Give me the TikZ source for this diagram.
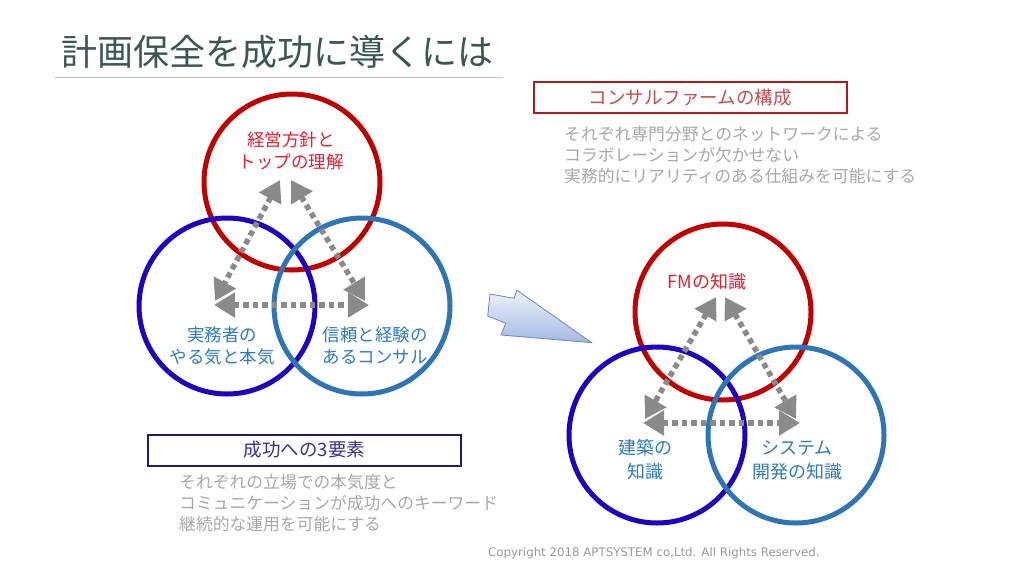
\documentclass[tikz,border=0pt]{standalone}
\usepackage{fontspec}
\newfontfamily\jp{Noto Sans CJK JP}
\newfontfamily\cpy{DejaVu Sans}
\usetikzlibrary{arrows.meta,shadings}
\definecolor{ttl}{HTML}{3B5753}
\definecolor{cred}{HTML}{C00000}
\definecolor{cdb}{HTML}{2200C0}
\definecolor{clb}{HTML}{2E75B6}
\definecolor{tred}{HTML}{E0202E}
\definecolor{tblue}{HTML}{2E7BC0}
\definecolor{txtgray}{HTML}{A8A8A8}
\definecolor{arrgray}{HTML}{8A8A8A}
\definecolor{boxred}{HTML}{B01A1A}
\definecolor{boxredtxt}{HTML}{C0504D}
\definecolor{boxnavy}{HTML}{231A6E}
\definecolor{boxnavytxt}{HTML}{3A2E96}
\definecolor{arrfill1}{HTML}{EEF2FA}
\definecolor{arrfill2}{HTML}{A3B9E2}
\definecolor{arrline}{HTML}{7088B8}
\tikzset{
  ring/.style={circle, line width=5pt, minimum size=176pt, inner sep=0pt},
  garrow/.style={draw=arrgray, line width=5.5pt, dash pattern=on 5.5pt off 4pt,
    {Triangle[length=21pt 0,width=24pt 0]}-{Triangle[length=21pt 0,width=24pt 0]}},
  lbl/.style={align=center, inner sep=0pt, font=\jp\fontsize{17.5}{22}\selectfont},
  rlbl/.style={align=center, inner sep=0pt, font=\jp\fontsize{18}{24}\selectfont},
  body/.style={align=left, anchor=west, inner sep=0pt, text=txtgray, font=\jp\fontsize{16.8}{21}\selectfont},
  headbox/.style={draw, line width=2pt, minimum width=313pt, minimum height=31pt, inner sep=0pt, font=\jp\fontsize{18.5}{22}\selectfont}
}
\begin{document}
\begin{tikzpicture}[x=1pt,y=-1pt]
\useasboundingbox[fill=white] (0,0) rectangle (1024,576);
% title
\node[anchor=west, inner sep=0pt, text=ttl, font=\jp\fontsize{36}{40}\selectfont] (title) at (61,52) {計画保全を成功に導くには};
\coordinate (ul1) at (55,77.5);
\coordinate (ul2) at (503,77.5);
\draw[line width=1.5pt, draw=black!25] (ul1) -- (ul2);

% left diagram
\node[ring, draw=cred] (lr) at (292,182) {};
\node[ring, draw=cdb] (ldb) at (227,306) {};
\node[ring, draw=clb] (llb) at (362,306) {};
\node[lbl, text=tred] (lrt) at (291,151) {経営方針と\\トップの理解};
\node[lbl, text=tblue] (ldbt) at (222,346) {実務者の\\やる気と本気};
\node[lbl, text=tblue] (llbt) at (375,346) {信頼と経験の\\あるコンサル};
\coordinate (la1) at (280,180);
\coordinate (la2) at (215,301);
\coordinate (lb1) at (291,180);
\coordinate (lb2) at (365,301);
\coordinate (lc1) at (214,305);
\coordinate (lc2) at (369,305);
\draw[garrow] (la1) -- (la2);
\draw[garrow] (lb1) -- (lb2);
\draw[garrow] (lc1) -- (lc2);

% right diagram
\node[ring, draw=cred] (rr) at (723,312) {};
\node[ring, draw=cdb] (rdb) at (657,435) {};
\node[ring, draw=clb] (rlb) at (796,435) {};
\node[rlbl, text=tred] (rrt) at (707,282) {FMの知識};
\node[rlbl, text=tblue] (rdbt) at (645,460) {建築の\\知識};
\node[rlbl, text=tblue] (rlbt) at (797,460) {システム\\開発の知識};
\coordinate (ra1) at (716,297);
\coordinate (ra2) at (645,419);
\coordinate (rb1) at (725,297);
\coordinate (rb2) at (796,419);
\coordinate (rc1) at (643,423);
\coordinate (rc2) at (800,423);
\draw[garrow] (ra1) -- (ra2);
\draw[garrow] (rb1) -- (rb2);
\draw[garrow] (rc1) -- (rc2);

% block arrow
\shade[top color=arrfill1, bottom color=arrfill2, draw=arrline, line width=0.8pt]
  (591.7,342.7) -- (516.7,290) -- (514.3,298.3) -- (490,294) -- (487.7,316)
  -- (505.7,323.3) -- (501,335) -- cycle;

% consult box
\node[headbox, draw=boxred, text=boxredtxt] (cbox) at (690,97.5) {コンサルファームの構成};
\node[body] (ctext) at (564,155) {それぞれ専門分野とのネットワークによる\\コラボレーションが欠かせない\\実務的にリアリティのある仕組みを可能にする};

% success box
\node[headbox, draw=boxnavy, text=boxnavytxt] (sbox) at (304.5,450) {成功への3要素};
\node[body] (stext) at (179,503.5) {それぞれの立場での本気度と\\コミュニケーションが成功へのキーワード\\継続的な運用を可能にする};

% copyright
\node[anchor=west, inner sep=0pt, text=black!40, font=\cpy\fontsize{11.8}{13}\selectfont] (copy) at (488,553) {Copyright 2018 APTSYSTEM co,Ltd. All Rights Reserved.};
\end{tikzpicture}
\end{document}
